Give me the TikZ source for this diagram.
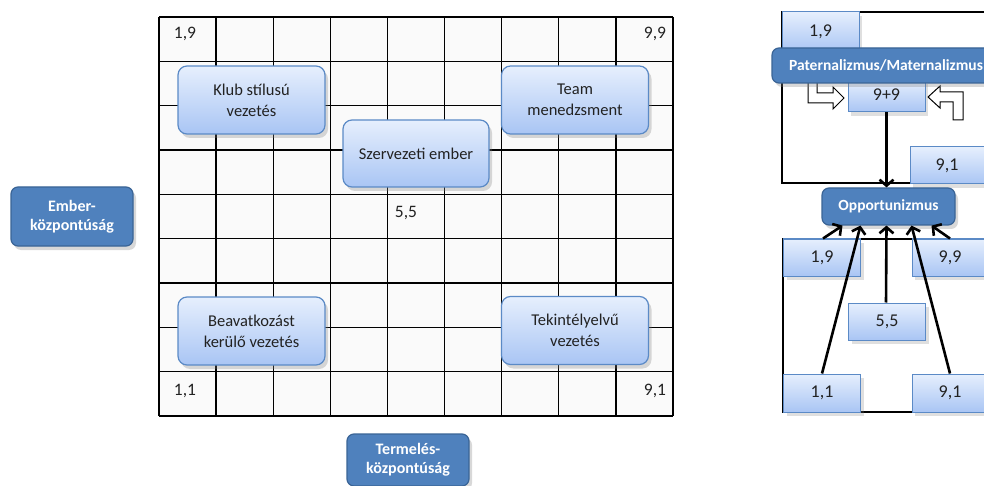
\documentclass[tikz,border=0pt]{standalone}
\usepackage{fontspec}
\setmainfont{Carlito}
\usetikzlibrary{shadows,arrows.meta}
\definecolor{lbtop}{HTML}{E6EFFD}
\definecolor{lbbot}{HTML}{A9C5F4}
\definecolor{lbdraw}{HTML}{5B8AC6}
\definecolor{dkfill}{HTML}{4F81BD}
\definecolor{dkdraw}{HTML}{3A6496}
\definecolor{txt}{HTML}{222222}
\tikzset{
 lbox/.style={rounded corners=9pt, draw=lbdraw, line width=1.2pt, top color=lbtop, bottom color=lbbot,
   minimum width=147pt, minimum height=68pt, align=center, inner sep=2pt,
   font=\fontsize{16.5}{21}\selectfont, text=txt,
   drop shadow={opacity=0.3,shadow xshift=3pt,shadow yshift=-4pt}},
 dbox/.style={rounded corners=7pt, draw=dkdraw, line width=1.2pt, fill=dkfill, text=white,
   font=\bfseries\fontsize{15.5}{18}\selectfont, align=center, inner sep=1pt,
   drop shadow={opacity=0.3,shadow xshift=3pt,shadow yshift=-4pt}},
 sbox/.style={draw=lbdraw, line width=1pt, top color=lbtop, bottom color=lbbot,
   minimum width=77pt, minimum height=37pt, inner sep=0pt,
   font=\fontsize{18}{20}\selectfont, text=txt,
   drop shadow={opacity=0.25,shadow xshift=3pt,shadow yshift=-4pt}},
 gl/.style={line width=1.3pt, black},
 glabel/.style={font=\fontsize{17.5}{20}\selectfont, text=txt, inner sep=0pt},
 tarr/.style={line width=2.6pt, black, -{Straight Barb[length=6pt,width=14pt,line width=2.6pt]}},
 barr/.style={fill=white, draw=black, line width=1pt, line join=miter},
}
\begin{document}
\begin{tikzpicture}[x=1pt,y=-1pt]
\useasboundingbox (0,0) rectangle (984,486);
\clip (0,0) rectangle (984,486);
\fill[white] (0,0) rectangle (984,486);

% ---------- left grid ----------
\fill[black!2] (159,17) rectangle (673,416);
\foreach \i in {0,...,9} {
  \draw[gl] ({159+\i*57.111},17) -- ({159+\i*57.111},416);
  \draw[gl] (159,{17+\i*44.333}) -- (673,{17+\i*44.333});
}
\node[glabel] (l19) at (185,34) {1,9};
\node[glabel] (l99) at (655,34) {9,9};
\node[glabel] (l11) at (185,391) {1,1};
\node[glabel] (l91) at (655,391) {9,1};
\node[glabel] (l55) at (406,213) {5,5};

\node[lbox] (klub) at (251.5,100) {Klub stílusú\\vezetés};
\node[lbox] (team) at (575,100) {Team\\menedzsment};
\node[lbox, minimum width=146pt, minimum height=67pt] (szerv) at (416,153.5) {Szervezeti ember};
\node[lbox] (beav) at (251.5,331) {Beavatkozást\\kerülő vezetés};
\node[lbox] (tek) at (575,330.5) {Tekintélyelvű\\vezetés};

\node[dbox, font=\bfseries\fontsize{16}{19}\selectfont, minimum width=122pt, minimum height=59pt] (ember) at (72,216.5) {Ember-\\központúság};
\node[dbox, font=\bfseries\fontsize{16}{19}\selectfont, minimum width=122pt, minimum height=52pt] (term) at (408,460) {Termelés-\\központúság};

% ---------- right top ----------
\draw[gl] (782,12) rectangle (995,183);
\node[sbox, minimum height=40pt] (t19) at (820.5,32) {\raisebox{3pt}{1,9}};
\draw[barr] (844,98) -- (833,87) -- (833,93) -- (817,93) -- (817,78) -- (808,78) -- (808,103) -- (833,103) -- (833,109) -- cycle;
\draw[barr] (928,97) -- (940,86) -- (940,92) -- (963,92) -- (963,120) -- (953,120) -- (953,102) -- (940,102) -- (940,108) -- cycle;
\node[sbox, minimum height=32pt] (t99) at (886.5,96) {\raisebox{2pt}{9+9}};
\node[dbox, minimum width=228pt, minimum height=35pt] (pat) at (886,65.5) {Paternalizmus/Maternalizmus};
\node[sbox, minimum width=74pt] (t91) at (947,165.5) {9,1};
\node[dbox, minimum width=133pt, minimum height=37pt] (opp) at (888.5,206.5) {Opportunizmus};
\draw[tarr] (t99.south) -- (t99.south |- opp.north);

% ---------- right bottom ----------
\draw[gl] (783,239) rectangle (995,412);
\node[sbox] (b19) at (822,257.5) {1,9};
\node[sbox, minimum width=76pt] (b99) at (950,257.5) {9,9};
\node[sbox] (b55) at (887,321.5) {5,5};
\node[sbox, minimum height=38pt] (b11) at (822,393) {1,1};
\node[sbox, minimum width=76pt, minimum height=38pt] (b91) at (950,393) {9,1};

\coordinate (o1) at ([xshift=-46pt]opp.south);
\coordinate (o2) at ([xshift=-28pt]opp.south);
\coordinate (o3) at ([xshift=-2pt]opp.south);
\coordinate (o4) at ([xshift=23pt]opp.south);
\coordinate (o5) at ([xshift=43pt]opp.south);
\draw[tarr] ([xshift=1pt]b19.north) -- (o1);
\draw[tarr] (b11.north) -- (o2);
\draw[tarr] ([xshift=-1pt]b55.north) -- (o3);
\draw[tarr] (b91.north) -- (o4);
\draw[tarr] (b99.north) -- (o5);
\end{tikzpicture}
\end{document}
